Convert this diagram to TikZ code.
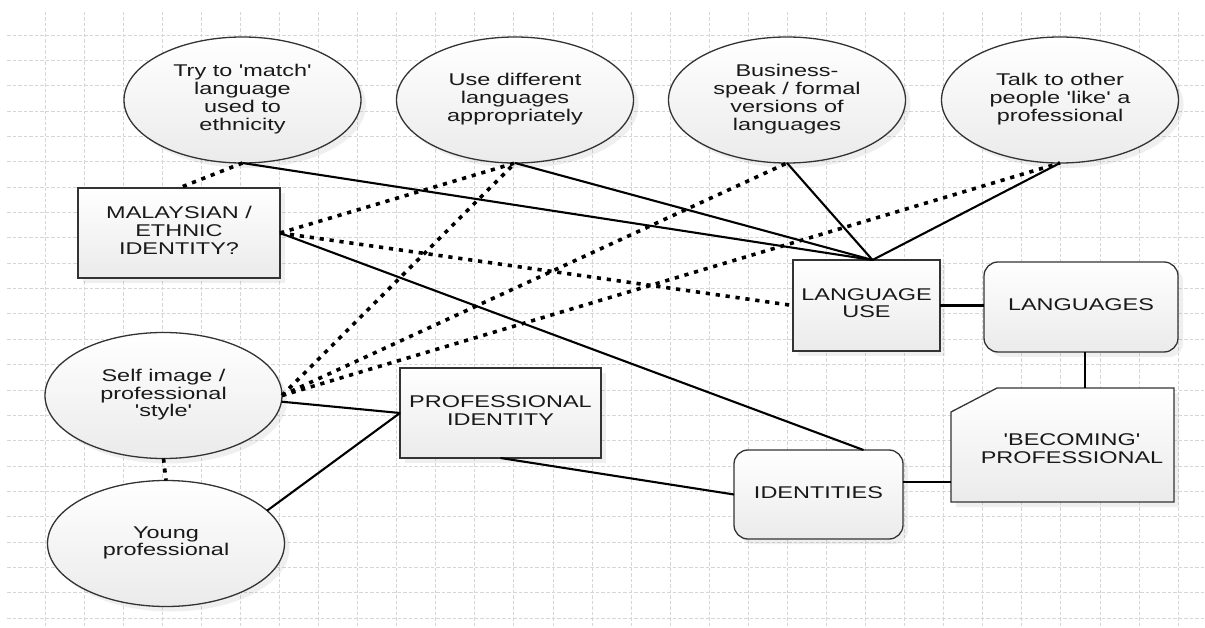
\documentclass[tikz,border=0pt]{standalone}
\usepackage{fontspec}
\setmainfont{Liberation Sans}[Ligatures=TeXOff]
\usepackage{graphicx}
\usetikzlibrary{shapes.geometric,shadows,calc}
\newcommand{\tx}[1]{\scalebox{1.38}[1]{\begin{tabular}{@{}c@{}}#1\end{tabular}}}
\begin{document}
\begin{tikzpicture}[x=1pt,y=-1pt,
  gridline/.style={gray!32,line width=0.8pt,dash pattern=on 3.5pt off 2pt},
  shapefill/.style={draw=black!80,line width=1.3pt,top color=white,bottom color=gray!16,
     drop shadow={opacity=0.12,shadow xshift=5pt,shadow yshift=-5pt}},
  base/.style={shapefill,inner sep=0pt,outer sep=0pt,text=black!90,
     font=\fontsize{17}{17.7}\selectfont},
  oval/.style={base,ellipse,minimum width=237pt,minimum height=126pt},
  box/.style={base,rectangle},
  rbox/.style={base,rectangle,rounded corners=14pt},
  lbl/.style={inner sep=0pt,text=black!90,font=\fontsize{17}{17.7}\selectfont},
  conn/.style={line width=2.1pt,black},
  dot/.style={line width=3.6pt,dash pattern=on 4.2pt off 5.8pt,black}]
\useasboundingbox (0,0) rectangle (1205,628);
\fill[white] (0,0) rectangle (1205,628);
% grid
\foreach \i in {0,...,29} \draw[gridline] ({45+39.07*\i},12) -- ({45+39.07*\i},628);
\foreach \j in {0,...,23} \draw[gridline] (7,{35+25.35*\j}) -- (1205,{35+25.35*\j});
% nodes
\node[oval] (e1) at (242.5,100) {\tx{Try to 'match'\\language\\used to\\ethnicity}};
\node[oval] (e2) at (515,100) {\tx{Use different\\languages\\appropriately}};
\node[oval] (e3) at (787,100) {\tx{Business-\\speak / formal\\versions of\\languages}};
\node[oval] (e4) at (1060,100) {\tx{Talk to other\\people 'like' a\\professional}};
\node[box,minimum width=202pt,minimum height=90pt] (malay) at (179,233) {\tx{MALAYSIAN /\\ETHNIC\\IDENTITY?}};
\node[oval] (self) at (163.5,395.5) {\tx{Self image /\\professional\\'style'}};
\node[oval] (young) at (166,543.5) {\tx{Young\\professional}};
\node[box,minimum width=201pt,minimum height=90pt] (profid) at (500.5,413) {\tx{PROFESSIONAL\\IDENTITY}};
\node[rbox,minimum width=169pt,minimum height=89pt] (identities) at (818.5,494.5) {\tx{IDENTITIES}};
\node[box,minimum width=147pt,minimum height=91pt] (languse) at (866.5,305.5) {\tx{LANGUAGE\\USE}};
\node[rbox,minimum width=194pt,minimum height=90pt] (languages) at (1081,307) {\tx{LANGUAGES}};
\node[inner sep=0pt,outer sep=0pt,minimum width=223pt,minimum height=114pt] (becoming) at (1062.5,445) {};
\path[shapefill] ($(becoming.north west)+(0,24)$) -- ($(becoming.north west)+(46,0)$)
   -- (becoming.north east) -- (becoming.south east) -- (becoming.south west) -- cycle;
\node[lbl] (becomingtext) at (1072,451) {\tx{'BECOMING'\\PROFESSIONAL}};
% solid connectors
\coordinate (lut) at ([xshift=6pt]languse.north);
\draw[conn] (e1.south) -- (lut);
\draw[conn] (e2.south) -- (lut);
\draw[conn] (e3.south) -- (lut);
\draw[conn] (e4.south) -- (lut);
\draw[conn] (malay.east) -- ([xshift=45pt]identities.north);
\draw[conn] (self.-3) -- (profid.west);
\draw[conn] (young.18) -- (profid.west);
\draw[conn] (profid.south) -- (identities.west);
\draw[conn] (languse.east) -- (languse.east -| languages.west);
\draw[conn] ([xshift=4pt]languages.south) -- ([xshift=4pt]languages.south |- becoming.north);
\coordinate (idr) at ([yshift=12.5pt]identities.east);
\draw[conn] (idr) -- (idr -| becoming.west);
% dotted connectors
\draw[dot] (e1.south) -- (malay.north);
\draw[dot] (malay.east) -- (e2.south);
\draw[dot] (malay.east) -- (languse.west);
\draw[dot] (self.east) -- (e2.south);
\draw[dot] (self.east) -- (e3.south);
\draw[dot] (self.east) -- (e4.south);
\draw[dot] (self.south) -- (young.north);
\end{tikzpicture}
\end{document}
